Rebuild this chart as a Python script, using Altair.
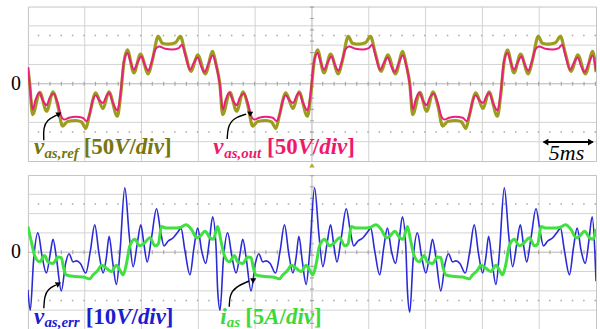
import altair as alt
import pandas as pd

# ---------------- data (time in ms, amplitude in scope divisions) ----------------
REF = [(0.0,0.85),(0.16,0.0),(0.41,-1.6),(1.05,-0.44),(1.64,-1.42),(2.22,-0.42),(2.62,-1.1),(3.05,-2.19),(3.49,-1.95),(4.21,-1.90),
       (4.72,-1.98),(5.09,-2.31),(5.42,-1.6),(5.97,-0.47),(6.61,-1.28),(7.13,-0.42),(7.87,-1.68),(8.14,-0.7),(8.45,1.1),(8.75,1.76),
       (9.33,0.56),(9.91,1.54),(10.59,0.51),(10.95,1.2),(11.47,2.45),(11.83,2.1),(12.40,2.05),(12.97,2.12),(13.42,2.45),(13.84,1.6),
       (14.36,0.64),(14.94,1.5),(15.62,0.51),(16.26,1.68),(16.56,1.0),
       (16.89,0.0),(17.14,-1.6),(17.78,-0.44),(18.37,-1.42),(18.95,-0.42),(19.35,-1.1),(19.78,-2.19),(20.22,-1.95),(20.94,-1.90),(21.45,-1.98),
       (21.82,-2.31),(22.15,-1.6),(22.70,-0.47),(23.34,-1.28),(23.86,-0.42),(24.60,-1.68),(24.87,-0.7),(25.18,1.1),(25.48,1.76),(26.06,0.56),
       (26.64,1.54),(27.32,0.51),(27.68,1.2),(28.20,2.45),(28.56,2.1),(29.13,2.05),(29.70,2.12),(30.15,2.45),(30.57,1.6),(31.09,0.64),
       (31.67,1.5),(32.35,0.51),(32.99,1.68),(33.29,1.0),
       (33.61,0.0),(33.86,-1.6),(34.50,-0.44),(35.09,-1.42),(35.67,-0.42),(36.07,-1.1),(36.50,-2.19),(36.94,-1.95),(37.66,-1.90),(38.17,-1.98),
       (38.54,-2.31),(38.87,-1.6),(39.42,-0.47),(40.06,-1.28),(40.58,-0.42),(41.32,-1.68),(41.59,-0.7),(41.90,1.1),(42.20,1.76),(42.78,0.56),
       (43.36,1.54),(44.04,0.51),(44.40,1.2),(44.92,2.45),(45.28,2.1),(45.85,2.05),(46.42,2.12),(46.87,2.45),(47.29,1.6),(47.81,0.64),
       (48.39,1.5),(49.07,0.51),(49.71,1.68),(50.0,0.6)]

OUT = [(0.0,0.85),(0.16,-0.05),(0.42,-1.33),(0.69,-0.80),(0.99,-0.47),(1.34,-0.90),(1.65,-1.11),(1.91,-0.73),(2.27,-0.51),(2.62,-0.99),
       (2.88,-1.59),(3.19,-1.85),(3.62,-1.76),(4.20,-1.71),(4.81,-1.76),(5.16,-1.93),(5.38,-1.68),(5.69,-0.90),(5.95,-0.59),(6.30,-0.87),
       (6.61,-0.99),(6.91,-0.64),(7.13,-0.47),(7.48,-0.99),(7.88,-1.38),(8.14,-0.56),(8.45,1.16),(8.76,1.59),(9.02,1.16),(9.33,0.73),
       (9.63,1.07),(9.98,1.41),(10.29,0.98),(10.60,0.68),(10.86,1.07),(11.21,1.77),(11.52,1.93),(12.09,1.81),(12.70,1.77),(13.27,1.85),
       (13.58,2.02),(13.84,1.51),(14.28,0.73),(14.59,1.07),(14.94,1.36),(15.25,0.90),(15.55,0.61),(15.91,1.07),(16.26,1.46),(16.56,0.98),
       (16.89,-0.05),(17.15,-1.33),(17.42,-0.80),(17.72,-0.47),(18.07,-0.90),(18.38,-1.11),(18.64,-0.73),(19.00,-0.51),(19.35,-0.99),(19.61,-1.59),
       (19.92,-1.85),(20.35,-1.76),(20.93,-1.71),(21.54,-1.76),(21.89,-1.93),(22.11,-1.68),(22.42,-0.90),(22.68,-0.59),(23.03,-0.87),(23.34,-0.99),
       (23.64,-0.64),(23.86,-0.47),(24.21,-0.99),(24.61,-1.38),(24.87,-0.56),(25.18,1.16),(25.49,1.59),(25.75,1.16),(26.06,0.73),(26.36,1.07),
       (26.71,1.41),(27.02,0.98),(27.33,0.68),(27.59,1.07),(27.94,1.77),(28.25,1.93),(28.82,1.81),(29.43,1.77),(30.00,1.85),(30.31,2.02),
       (30.57,1.51),(31.01,0.73),(31.32,1.07),(31.67,1.36),(31.98,0.90),(32.28,0.61),(32.64,1.07),(32.99,1.46),(33.29,0.98),
       (33.61,-0.05),(33.87,-1.33),(34.14,-0.80),(34.44,-0.47),(34.79,-0.90),(35.10,-1.11),(35.36,-0.73),(35.72,-0.51),(36.07,-0.99),(36.33,-1.59),
       (36.64,-1.85),(37.07,-1.76),(37.65,-1.71),(38.26,-1.76),(38.61,-1.93),(38.83,-1.68),(39.14,-0.90),(39.40,-0.59),(39.75,-0.87),(40.06,-0.99),
       (40.36,-0.64),(40.58,-0.47),(40.93,-0.99),(41.33,-1.38),(41.59,-0.56),(41.90,1.16),(42.21,1.59),(42.47,1.16),(42.78,0.73),(43.08,1.07),
       (43.43,1.41),(43.74,0.98),(44.05,0.68),(44.31,1.07),(44.66,1.77),(44.97,1.93),(45.54,1.81),(46.15,1.77),(46.72,1.85),(47.03,2.02),
       (47.29,1.51),(47.73,0.73),(48.04,1.07),(48.39,1.36),(48.70,0.90),(49.00,0.61),(49.36,1.07),(49.71,1.46),(50.0,0.7)]

ERR = [(0.00,-1.95),(0.21,-3.0),(0.50,-0.42),(0.88,1.0),(1.26,-0.25),(1.62,-1.08),(1.97,-0.08),(2.21,0.67),(2.50,-0.25),(2.94,-2.0),
       (3.32,-0.58),(3.62,-0.08),(3.97,-0.5),(4.26,-0.45),(4.62,-0.58),(5.09,-1.08),(5.50,0.08),(5.88,1.42),(6.26,-0.08),(6.62,-1.08),
       (6.91,-0.25),(7.15,0.83),(7.44,-0.42),(7.79,-1.67),(8.09,-0.08),(8.53,3.33),(8.91,0.92),(9.26,-0.75),(9.62,0.42),(9.94,1.42),
       (10.21,0.42),(10.50,-0.5),(10.88,0.75),(11.32,2.25),(11.68,1.08),(11.97,0.33),(12.35,0.58),(12.79,0.75),(13.24,1.08),(13.47,1.25),
       (13.82,0.08),(14.26,-1.17),(14.62,0.25),(14.94,1.25),(15.29,0.08),(15.65,-0.58),(15.97,0.58),(16.26,1.83),(16.56,0.25),
       (16.70,-1.95),(16.91,-3.0),(17.20,-0.42),(17.58,1.0),(17.96,-0.25),(18.32,-1.08),(18.67,-0.08),(18.91,0.67),(19.20,-0.25),(19.64,-2.0),
       (20.02,-0.58),(20.32,-0.08),(20.67,-0.5),(20.96,-0.45),(21.32,-0.58),(21.79,-1.08),(22.20,0.08),(22.58,1.42),(22.96,-0.08),(23.32,-1.08),
       (23.61,-0.25),(23.85,0.83),(24.14,-0.42),(24.49,-1.67),(24.79,-0.08),(25.23,3.33),(25.61,0.92),(25.96,-0.75),(26.32,0.42),(26.64,1.42),
       (26.91,0.42),(27.20,-0.5),(27.58,0.75),(28.02,2.25),(28.38,1.08),(28.67,0.33),(29.05,0.58),(29.49,0.75),(29.94,1.08),(30.17,1.25),
       (30.52,0.08),(30.96,-1.17),(31.32,0.25),(31.64,1.25),(31.99,0.08),(32.35,-0.58),(32.67,0.58),(32.96,1.83),(33.26,0.25),
       (33.40,-1.95),(33.61,-3.1),(33.90,-0.42),(34.28,1.0),(34.66,-0.25),(35.02,-1.08),(35.37,-0.08),(35.61,0.67),(35.90,-0.25),(36.34,-2.0),
       (36.72,-0.58),(37.02,-0.08),(37.37,-0.5),(37.66,-0.45),(38.02,-0.58),(38.49,-1.08),(38.90,0.08),(39.28,1.42),(39.66,-0.08),(40.02,-1.08),
       (40.31,-0.25),(40.55,0.83),(40.84,-0.42),(41.19,-1.67),(41.49,-0.08),(41.93,3.33),(42.31,0.92),(42.66,-0.75),(43.02,0.42),(43.34,1.42),
       (43.61,0.42),(43.90,-0.5),(44.28,0.75),(44.72,2.25),(45.08,1.08),(45.37,0.33),(45.75,0.58),(46.19,0.75),(46.64,1.08),(46.87,1.25),
       (47.22,0.08),(47.66,-1.17),(48.02,0.25),(48.34,1.25),(48.69,0.08),(49.05,-0.58),(49.37,0.58),(49.66,1.83),(49.90,0.0),(50.0,-1.5)]

IAS = [(0.00,1.33),(0.29,0.58),(0.59,-0.17),(1.03,-0.50),(1.47,-0.17),(1.76,-0.50),(2.21,-0.58),(2.65,-0.25),(2.94,-0.28),(3.15,-0.83),
       (3.38,-1.17),(3.97,-1.25),(4.85,-1.28),(5.44,-1.38),(5.74,-1.17),(6.18,-0.92),(6.47,-0.67),(6.91,-0.83),(7.35,-1.00),(7.79,-0.67),
       (8.09,-0.92),(8.38,-1.17),(8.68,-0.58),(8.97,0.33),(9.41,0.67),(9.85,0.33),(10.29,0.50),(10.74,0.75),(11.18,0.33),(11.47,0.42),
       (11.76,1.33),(12.21,1.25),(12.79,1.25),(13.38,1.28),(13.91,1.42),(14.41,1.17),(14.85,0.75),(15.15,0.83),(15.59,1.08),(16.03,0.75),(16.32,0.67),
       (16.70,1.33),(16.99,0.58),(17.29,-0.17),(17.73,-0.50),(18.17,-0.17),(18.46,-0.50),(18.91,-0.58),(19.35,-0.25),(19.64,-0.28),(19.85,-0.83),
       (20.08,-1.17),(20.67,-1.25),(21.55,-1.28),(22.14,-1.38),(22.44,-1.17),(22.88,-0.92),(23.17,-0.67),(23.61,-0.83),(24.05,-1.00),(24.49,-0.67),
       (24.79,-0.92),(25.08,-1.17),(25.38,-0.58),(25.67,0.33),(26.11,0.67),(26.55,0.33),(26.99,0.50),(27.44,0.75),(27.88,0.33),(28.17,0.42),
       (28.46,1.33),(28.91,1.25),(29.49,1.25),(30.08,1.28),(30.61,1.42),(31.11,1.17),(31.55,0.75),(31.85,0.83),(32.29,1.08),(32.73,0.75),(33.02,0.67),
       (33.40,1.33),(33.69,0.58),(33.99,-0.17),(34.43,-0.50),(34.87,-0.17),(35.16,-0.50),(35.61,-0.58),(36.05,-0.25),(36.34,-0.28),(36.55,-0.83),
       (36.78,-1.17),(37.37,-1.25),(38.25,-1.28),(38.84,-1.38),(39.14,-1.17),(39.58,-0.92),(39.87,-0.67),(40.31,-0.83),(40.75,-1.00),(41.19,-0.67),
       (41.49,-0.92),(41.78,-1.17),(42.08,-0.58),(42.37,0.33),(42.81,0.67),(43.25,0.33),(43.69,0.50),(44.14,0.75),(44.58,0.33),(44.87,0.42),
       (45.16,1.33),(45.61,1.25),(46.19,1.25),(46.78,1.28),(47.31,1.42),(47.81,1.17),(48.25,0.75),(48.55,0.83),(48.99,1.08),(49.43,0.75),(49.72,0.67),(50.0,1.2)]

# grid of the scope screen
GRID_T = [5, 10, 15, 20, 30, 35, 40, 45]
CENTER_T = [25]
GRID_V = [-3, -2, -1, 1, 2, 3]
DOT_V = [-2.5, 2.5]

# label pieces: (panel, t, v, text, colour, font size, style)
OLIVE_T, PINK_T, BLUE_T, GREEN_T = "#76760e", "#f0186c", "#1c1cd0", "#3cd83c"
LABELS = [
    ("top", -1.05, 0.0, "0", "#000000", 20, "n"),
    ("bot", -1.05, 0.0, "0", "#000000", 20, "n"),
    ("top", 0.53, -3.63, "v", OLIVE_T, 23, "ib"),
    ("top", 1.45, -3.84, "as,ref", OLIVE_T, 15, "ib"),
    ("top", 4.91, -3.63, "[50", OLIVE_T, 23, "b"),
    ("top", 7.60, -3.63, "V", OLIVE_T, 23, "ib"),
    ("top", 8.94, -3.63, "/", OLIVE_T, 23, "b"),
    ("top", 9.50, -3.63, "div", OLIVE_T, 23, "ib"),
    ("top", 11.97, -3.63, "]", OLIVE_T, 23, "b"),
    ("top", 16.32, -3.63, "v", PINK_T, 23, "ib"),
    ("top", 17.28, -3.84, "as,out", PINK_T, 15, "ib"),
    ("top", 21.05, -3.63, "[50", PINK_T, 23, "b"),
    ("top", 23.74, -3.63, "V", PINK_T, 23, "ib"),
    ("top", 25.08, -3.63, "/", PINK_T, 23, "b"),
    ("top", 25.64, -3.63, "div", PINK_T, 23, "ib"),
    ("top", 28.11, -3.63, "]", PINK_T, 23, "b"),
    ("top", 45.85, -3.95, "5ms", "#000000", 22, "i"),
    ("bot", 0.53, -3.70, "v", BLUE_T, 23, "ib"),
    ("bot", 1.45, -3.86, "as,err", BLUE_T, 15, "ib"),
    ("bot", 5.09, -3.70, "[10", BLUE_T, 23, "b"),
    ("bot", 7.77, -3.70, "V", BLUE_T, 23, "ib"),
    ("bot", 9.11, -3.70, "/", BLUE_T, 23, "b"),
    ("bot", 9.68, -3.70, "div", BLUE_T, 23, "ib"),
    ("bot", 12.14, -3.70, "]", BLUE_T, 23, "b"),
    ("bot", 16.93, -3.70, "i", GREEN_T, 23, "ib"),
    ("bot", 17.50, -3.86, "as", GREEN_T, 15, "ib"),
    ("bot", 19.12, -3.70, "[5", GREEN_T, 23, "b"),
    ("bot", 20.81, -3.70, "A", GREEN_T, 23, "ib"),
    ("bot", 22.15, -3.70, "/", GREEN_T, 23, "b"),
    ("bot", 22.71, -3.70, "div", GREEN_T, 23, "ib"),
    ("bot", 25.18, -3.70, "]", GREEN_T, 23, "b"),
]

# curved pointer arrows: (panel, id, order, t, v)
ARROWS = [
    ("top", "a", 0, 1.40, -2.92), ("top", "a", 1, 1.36, -2.29), ("top", "a", 2, 1.67, -1.88), ("top", "a", 3, 2.54, -1.62),
    ("top", "b", 0, 17.54, -2.86), ("top", "b", 1, 17.59, -2.24), ("top", "b", 2, 18.07, -1.78), ("top", "b", 3, 19.21, -1.57),
    ("bot", "c", 0, 1.40, -2.90), ("bot", "c", 1, 1.45, -2.30), ("bot", "c", 2, 1.75, -1.91), ("bot", "c", 3, 2.46, -1.70),
    ("bot", "d", 0, 17.72, -2.82), ("bot", "d", 1, 17.76, -2.22), ("bot", "d", 2, 18.25, -1.80), ("bot", "d", 3, 19.47, -1.49),
]
ARROW_TIPS = [("top", 2.68, -1.58), ("top", 19.56, -1.53), ("bot", 2.63, -1.65), ("bot", 19.82, -1.44)]

SCALE_BAR = [(45.4, 49.7, -3.02)]
SCALE_HEADS = [(45.55, -3.02, "triangle-left"), (49.55, -3.02, "triangle-right")]
TRIGGER = [(25.0, -4.22)]

# invisible layout frames (t, t2, v, v2) fixing each panel's outer extent
FRAME_TOP = [(-2.37, 50.26, 4.26, -4.52)]
FRAME_BOT = [(-2.37, 50.26, 4.0, -4.2)]

FONT = "Liberation Serif"
xs = alt.Scale(domain=[0, 50], nice=False, zero=False)
ys = alt.Scale(domain=[-4, 4], nice=False, zero=False)
X = lambda f="t": alt.X(f"{f}:Q", scale=xs, axis=None)
Y = lambda f="v": alt.Y(f"{f}:Q", scale=ys, axis=None)


def trace(points, color, width):
    d = pd.DataFrame(points, columns=["t", "v"])
    return alt.Chart(d).mark_line(color=color, strokeWidth=width, interpolate="monotone", clip=True).encode(x=X(), y=Y())


def frame(rows):
    d = pd.DataFrame(rows, columns=["t", "t2", "v", "v2"])
    return alt.Chart(d).mark_rect(opacity=0).encode(x=X(), x2="t2:Q", y=Y(), y2="v2:Q")


def grid():
    g = []
    g.append(alt.Chart(pd.DataFrame({"t": GRID_T})).mark_rule(color="#d3d3d3", strokeWidth=1).encode(x=X()))
    g.append(alt.Chart(pd.DataFrame({"v": GRID_V})).mark_rule(color="#d3d3d3", strokeWidth=1).encode(y=Y()))
    g.append(alt.Chart(pd.DataFrame({"v": DOT_V})).mark_rule(color="#a8a8a8", strokeWidth=1.5, strokeDash=[1.5, 9.9]).encode(y=Y()))
    g.append(alt.Chart(pd.DataFrame({"t": CENTER_T})).mark_rule(color="#b4b4b4", strokeWidth=1).encode(x=X()))
    g.append(alt.Chart(pd.DataFrame({"v": [0]})).mark_rule(color="#b4b4b4", strokeWidth=1).encode(y=Y()))
    g.append(alt.Chart(pd.DataFrame({"v": [0]})).mark_rule(color="#a8a8a8", strokeWidth=4, strokeDash=[1.2, 10.2]).encode(y=Y()))
    g.append(alt.Chart(pd.DataFrame({"t": CENTER_T})).mark_rule(color="#a8a8a8", strokeWidth=4, strokeDash=[1.2, 10.2]).encode(x=X()))
    return g


lab_df = pd.DataFrame(LABELS, columns=["panel", "t", "v", "txt", "col", "fs", "style"])
arr_df = pd.DataFrame(ARROWS, columns=["panel", "id", "k", "t", "v"])
tip_df = pd.DataFrame(ARROW_TIPS, columns=["panel", "t", "v"])

STYLES = {"ib": dict(fontStyle="italic", fontWeight="bold"),
          "b": dict(fontStyle="normal", fontWeight="bold"),
          "i": dict(fontStyle="italic", fontWeight="normal"),
          "n": dict(fontStyle="normal", fontWeight="normal")}


def annotations(panel):
    layers = []
    a = arr_df[arr_df.panel == panel]
    layers.append(alt.Chart(a).mark_line(color="black", strokeWidth=1.4, interpolate="basis").encode(
        x=X(), y=Y(), detail="id:N", order="k:Q"))
    layers.append(alt.Chart(tip_df[tip_df.panel == panel]).mark_point(
        shape="triangle", angle=62, filled=True, size=38, color="black", opacity=1).encode(x=X(), y=Y()))
    for st, kw in STYLES.items():
        d = lab_df[(lab_df.panel == panel) & (lab_df["style"] == st)]
        if len(d) == 0:
            continue
        if st == "n":
            mk = alt.Chart(d).mark_text(font=FONT, align="center", baseline="middle", **kw)
        else:
            mk = alt.Chart(d).mark_text(font=FONT, align="left", baseline="alphabetic", **kw)
        layers.append(mk.encode(x=X(), y=Y(), text="txt:N",
                                color=alt.Color("col:N", scale=None),
                                size=alt.Size("fs:Q", scale=None)))
    return layers


top_extra = [
    alt.Chart(pd.DataFrame(SCALE_BAR, columns=["t", "t2", "v"])).mark_rule(color="black", strokeWidth=2).encode(
        x=X(), x2="t2:Q", y=Y()),
    alt.Chart(pd.DataFrame(SCALE_HEADS, columns=["t", "v", "shp"])).mark_point(filled=True, size=45, color="black", opacity=1).encode(
        x=X(), y=Y(), shape=alt.Shape("shp:N", scale=None)),
    alt.Chart(pd.DataFrame(TRIGGER, columns=["t", "v"])).mark_point(shape="triangle-up", filled=True, size=28, color="#b8a82a", opacity=1).encode(
        x=X(), y=Y()),
]

top = alt.layer(frame(FRAME_TOP), *grid(), trace(REF, "#9c9c1e", 3.2), trace(OUT, "#e8207a", 2.0),
                *annotations("top"), *top_extra).properties(width=570, height=155)
bot = alt.layer(frame(FRAME_BOT), *grid(), trace(ERR, "#2a2ad6", 1.6), trace(IAS, "#3fe03f", 3.0),
                *annotations("bot")).properties(width=570, height=155)

chart = alt.vconcat(top, bot, spacing=0).properties(
    padding=0,
    background="white",
).configure_view(stroke="#c4c4c4", strokeWidth=1)

chart.save("out.html", embed_options={"renderer": "svg", "actions": False})
